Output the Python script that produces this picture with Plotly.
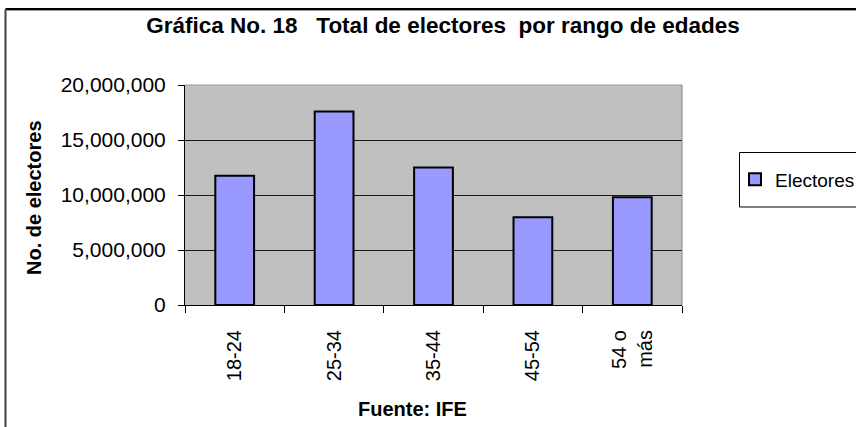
import plotly.graph_objects as go

# datos
rangos = ['18-24', '25-34', '35-44', '45-54', '54 o<br>más']
electores = [11750000, 17600000, 12500000, 7970000, 9800000]
y_ticks = [0, 5000000, 10000000, 15000000, 20000000]

W, H = 856, 427
L, R, T, B = 185, 682, 85, 305   # area de trazado en pixeles
pw, ph = R - L, B - T


def px(x):
    return (x - L) / pw


def py(y):
    return (B - y) / ph


font = 'Arial, Liberation Sans, sans-serif'

fig = go.Figure(go.Bar(
    x=rangos,
    y=electores,
    name='Electores',
    marker=dict(color='#9999FF', line=dict(color='black', width=2)),
))

fig.update_layout(
    width=W, height=H,
    margin=dict(l=L, r=W - R, t=T, b=H - B, autoexpand=False),
    paper_bgcolor='white',
    plot_bgcolor='#C0C0C0',
    font=dict(family=font, size=20, color='black'),
    bargap=0.61,
    title=dict(
        text='Gráfica No. 18\u00a0\u00a0\u00a0Total de electores\u00a0\u00a0por rango de edades',
        font=dict(family=font, size=22.5, color='black', weight='bold'),
        x=443 / W, xref='container', xanchor='center',
        y=1 - 25 / H, yref='container', yanchor='middle',
    ),
    showlegend=True,
    legend=dict(
        x=px(735), y=py(179.5), xanchor='left', yanchor='middle',
        bgcolor='rgba(0,0,0,0)', borderwidth=0,
        font=dict(family=font, size=19),
        itemwidth=30,
    ),
    xaxis=dict(
        showline=True, linecolor='black', linewidth=1,
        ticks='outside', ticklen=7, tickcolor='black', tickson='boundaries',
        tickangle=-90, ticklabelstandoff=16,
        tickfont=dict(family=font, size=20),
    ),
    yaxis=dict(
        range=[0, 20000000],
        tickvals=y_ticks, tickformat=',d',
        showline=True, linecolor='black', linewidth=1,
        ticks='outside', ticklen=6, tickcolor='black', ticklabelstandoff=8,
        showgrid=True, gridcolor='#1a1a1a', gridwidth=1,
        zeroline=False,
        tickfont=dict(family=font, size=21),
    ),
    annotations=[
        dict(text='<b>No. de electores</b>', textangle=-90,
             x=px(34), y=py(198), xref='paper', yref='paper',
             xanchor='center', yanchor='middle', showarrow=False,
             font=dict(family=font, size=20)),
        dict(text='<b>Fuente: IFE</b>',
             x=px(412), y=py(409), xref='paper', yref='paper',
             xanchor='center', yanchor='middle', showarrow=False,
             font=dict(family=font, size=20)),
    ],
    shapes=[
        # borde superior y derecho del area de trazado
        dict(type='line', xref='paper', yref='paper', x0=0, x1=1, y0=1, y1=1,
             line=dict(color='#9a9a9a', width=1)),
        dict(type='line', xref='paper', yref='paper', x0=1, x1=1, y0=0, y1=1,
             line=dict(color='#808080', width=1)),
        # caja de la leyenda (recortada por el borde derecho)
        dict(type='rect', xref='paper', yref='paper',
             x0=px(739.5), x1=px(900), y0=py(207), y1=py(152.5),
             line=dict(color='black', width=1), fillcolor='white', layer='below'),
        # marco exterior del grafico
        dict(type='line', xref='paper', yref='paper',
             x0=px(5.5), x1=px(5.5), y0=py(440), y1=py(9.5),
             line=dict(color='#404040', width=2)),
        dict(type='line', xref='paper', yref='paper',
             x0=px(5.5), x1=px(870), y0=py(9), y1=py(9),
             line=dict(color='black', width=2)),
        dict(type='line', xref='paper', yref='paper',
             x0=px(6.5), x1=px(870), y0=py(10.5), y1=py(10.5),
             line=dict(color='#9a9a9a', width=1)),
    ],
)

fig.write_html('out.html', config={'displayModeBar': False},
               post_script="document.body.style.margin='0';")
